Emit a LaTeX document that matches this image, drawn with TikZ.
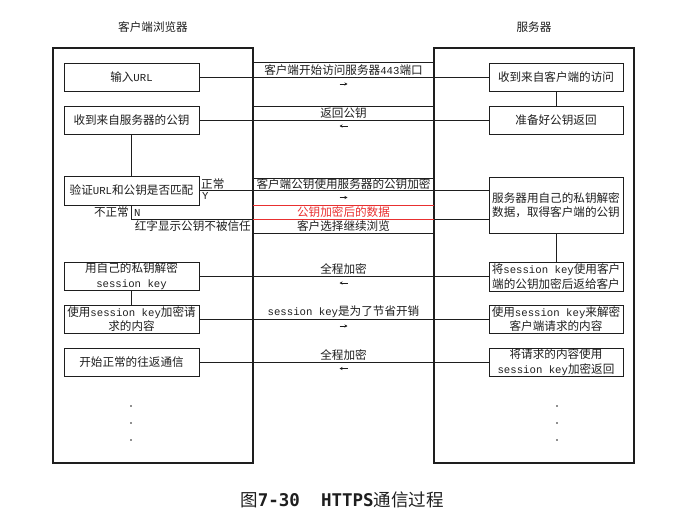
\documentclass[tikz,border=0pt]{standalone}
\usepackage{fontspec}
\setmainfont{Noto Sans CJK SC}
\newfontfamily\lat[Scale=0.92]{Liberation Mono}
\newfontfamily\capl{DejaVu Sans Mono}
\usetikzlibrary{arrows.meta}
\definecolor{redline}{RGB}{232,48,48}
\definecolor{ink}{RGB}{30,30,30}
\begin{document}
\begin{tikzpicture}[x=1pt,y=-1pt,
  font=\fontsize{11.6}{14.5}\selectfont, text=ink,
  outer/.style={draw=ink, line width=1.4pt},
  box/.style={draw=ink, line width=0.7pt, minimum height=28pt, align=center, inner sep=0.5pt},
  lbox/.style={box, minimum width=135pt},
  rbox/.style={box, minimum width=134pt},
  conn/.style={draw=ink, line width=0.7pt},
  band/.style={draw=ink, line width=0.6pt},
  lbl/.style={anchor=south, inner sep=1pt},
  tip/.style={draw=ink, line width=0.6pt, -{Stealth[length=3pt,width=3pt]}},
  dotm/.style={fill=ink, circle, inner sep=0pt, minimum size=1.6pt}
]
\useasboundingbox (0,0) rectangle (680,530);

% titles
\node (tl) at (153,27) {客户端浏览器};
\node (tr) at (534,27) {服务器};

% outer boxes
\draw[outer] (53,48) rectangle (253,463);
\draw[outer] (434,48) rectangle (634,463);

% left boxes
\node[lbox] (L1) at (131.5,77) {输入{\lat URL}};
\node[lbox] (L2) at (131.5,120) {收到来自服务器的公钥};
\node[lbox, minimum height=29pt] (L3) at (131.5,190.5) {验证{\lat URL}和公钥是否匹配};
\node[lbox] (L4) at (131.5,276) {用自己的私钥解密\\{\lat session key}};
\node[lbox] (L5) at (131.5,319) {使用{\lat session key}加密请\\求的内容};
\node[lbox] (L6) at (131.5,362) {开始正常的往返通信};

% right boxes
\node[rbox] (R1) at (556,77) {收到来自客户端的访问};
\node[rbox] (R2) at (556,120) {准备好公钥返回};
\node[rbox, minimum height=56pt] (R3) at (556,205) {服务器用自己的私钥解密\\数据，取得客户端的公钥};
\node[rbox, minimum height=29pt] (R4) at (556,276.5) {将{\lat session key}使用客户\\端的公钥加密后返给客户};
\node[rbox] (R5) at (556,319) {使用{\lat session key}来解密\\客户端请求的内容};
\node[rbox] (R6) at (556,362) {将请求的内容使用\\{\lat session key}加密返回};

% vertical links
\draw[conn] (L2.south) -- (L3.north);
\draw[conn] (L4.south) -- (L5.north);
\draw[conn] (R1.south) -- (R2.north);
\draw[conn] (R3.south) -- (R4.north);

% message 1
\draw[band] (253,62) -- (434,62);
\draw[conn] (L1.east) -- (R1.west);
\node[lbl] (m1) at (343.5,77) {客户端开始访问服务器{\lat 443}端口};
\coordinate (a1s) at (339.5,84); \coordinate (a1e) at (347.5,84);
\draw[tip] (a1s) -- (a1e);

% message 2
\draw[band] (253,106) -- (434,106);
\draw[conn] (L2.east) -- (R2.west);
\node[lbl] (m2) at (343.5,120) {返回公钥};
\coordinate (a2s) at (347.5,126); \coordinate (a2e) at (339.5,126);
\draw[tip] (a2s) -- (a2e);

% message 3
\draw[band] (253,178) -- (434,178);
\coordinate (c3) at (L3.east -| R3.west);
\draw[conn] (L3.east) -- (c3);
\node[lbl] (m3) at (343.5,190.5) {客户端公钥使用服务器的公钥加密};
\node[anchor=south west, inner sep=1pt] (ok) at (200,190.5) {正常};
\node[anchor=north west, inner sep=1pt] (yy) at (201,191.5) {\lat Y};
\coordinate (a3s) at (339.5,197.5); \coordinate (a3e) at (347.5,197.5);
\draw[tip] (a3s) -- (a3e);

% N branch
\coordinate (nN) at (131.5,219);
\draw[conn] (L3.south) -- (nN) -- (nN -| R3.west);
\draw[draw=redline, line width=0.7pt] (253,205) -- (434,205);
\draw[draw=redline, line width=0.7pt] (253,219) -- (434,219);
\node[text=redline] (red) at (343.5,212) {公钥加密后的数据};
\node[anchor=east, inner sep=1pt] (bad) at (130,212) {不正常};
\node[anchor=west, inner sep=1pt] (nn) at (133,212.5) {\lat N};
\node[anchor=east, inner sep=1pt] (warn) at (252,226.5) {红字显示公钥不被信任};
\node[anchor=north, inner sep=1pt] (cont) at (343.5,219.5) {客户选择继续浏览};
\draw[band] (253,233) -- (434,233);

% message 4
\draw[conn] (L4.east) -- (L4.east -| R4.west);
\node[lbl] (m4) at (343.5,276) {全程加密};
\coordinate (a4s) at (347.5,283); \coordinate (a4e) at (339.5,283);
\draw[tip] (a4s) -- (a4e);

% message 5
\draw[conn] (L5.east) -- (R5.west);
\node[lbl] (m5) at (343.5,319) {{\lat session key}是为了节省开销};
\coordinate (a5s) at (339.5,326); \coordinate (a5e) at (347.5,326);
\draw[tip] (a5s) -- (a5e);

% message 6
\draw[conn] (L6.east) -- (R6.west);
\node[lbl] (m6) at (343.5,362) {全程加密};
\coordinate (a6s) at (347.5,368.5); \coordinate (a6e) at (339.5,368.5);
\draw[tip] (a6s) -- (a6e);

% dots
\foreach \yy in {406,423,440}{
  \node[dotm] at (131,\yy) {};
  \node[dotm] at (557,\yy) {};
}

% caption
\node (cap) at (342,500) {\fontsize{17.5}{20}\selectfont 图{\capl\bfseries 7-30\ \ HTTPS}通信过程};
\end{tikzpicture}
\end{document}
